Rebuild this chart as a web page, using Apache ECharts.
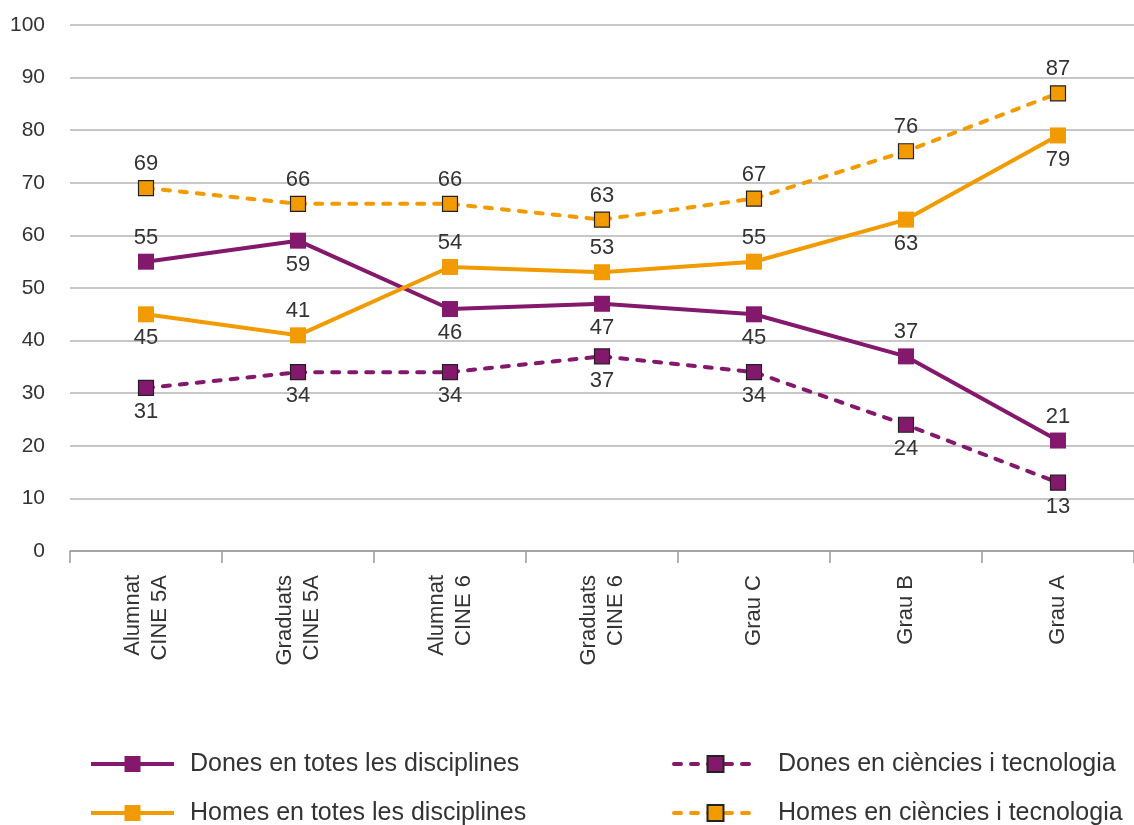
<!DOCTYPE html>
<html>
<head>
<meta charset="utf-8">
<script src="https://cdn.jsdelivr.net/npm/echarts@6/dist/echarts.min.js"></script>
<style>
  html, body { margin: 0; padding: 0; background: #fff; }
  #main { width: 1134px; height: 825px; }
</style>
</head>
<body>
<div id="main"></div>
<script type="text/javascript">
// dades
var categories = ['Alumnat\nCINE 5A', 'Graduats\nCINE 5A', 'Alumnat\nCINE 6', 'Graduats\nCINE 6', 'Grau C', 'Grau B', 'Grau A'];
var yTicks = [0, 10, 20, 30, 40, 50, 60, 70, 80, 90, 100];
var seriesNames = [
    'Dones en totes les disciplines',
    'Homes en totes les disciplines',
    'Dones en ciències i tecnologia',
    'Homes en ciències i tecnologia'
];

var donesTotes = [55, 59, 46, 47, 45, 37, 21];
var homesTotes = [45, 41, 54, 53, 55, 63, 79];
var donesCiencia = [31, 34, 34, 37, 34, 24, 13];
var homesCiencia = [69, 66, 66, 63, 67, 76, 87];

// on va l'etiqueta de cada punt
var donesTotesPos = ['top', 'bottom', 'bottom', 'bottom', 'bottom', 'top', 'top'];
var homesTotesPos = ['bottom', 'top', 'top', 'top', 'top', 'bottom', 'bottom'];
var donesCienciaPos = ['bottom', 'bottom', 'bottom', 'bottom', 'bottom', 'bottom', 'bottom'];
var homesCienciaPos = ['top', 'top', 'top', 'top', 'top', 'top', 'top'];

var PURPLE = '#84186C';
var ORANGE = '#F29B00';
var FONT = "'Liberation Sans', Arial, sans-serif";

function withPos(values, pos) {
    return values.map(function (v, i) {
        return { value: v, label: { position: pos[i] } };
    });
}

function makeSeries(name, values, pos, color, dashed) {
    return {
        name: name,
        type: 'line',
        data: withPos(values, pos),
        symbol: 'rect',
        symbolSize: dashed ? 15 : 16,
        lineStyle: {
            color: color,
            width: 4,
            type: dashed ? [7, 10] : 'solid',
            cap: dashed ? 'round' : 'butt'
        },
        itemStyle: {
            color: color,
            borderColor: dashed ? '#222' : color,
            borderWidth: dashed ? 1.2 : 0
        },
        label: {
            show: true,
            distance: 5,
            color: '#333',
            fontSize: 22,
            fontFamily: FONT
        },
        animation: false,
        z: dashed ? 2 : 3
    };
}

// una llegenda per element, per col·locar-les en dues columnes
function makeLegend(name, left, top, gap) {
    return {
        data: [name],
        left: left,
        top: top,
        itemWidth: 83,
        itemHeight: 20,
        lineStyle: { width: 4 },
        textStyle: { fontSize: 25, color: '#333', fontFamily: FONT, padding: [0, 0, 0, gap], lineHeight: 28 }
    };
}

var myChart = echarts.init(document.getElementById('main'));

var option = {
    backgroundColor: '#fff',
    grid: {
        left: 70,
        top: 25,
        width: 1072,
        height: 526,
        containLabel: false
    },
    legend: [
        makeLegend(seriesNames[0], 84, 745, 11),
        makeLegend(seriesNames[1], 84, 794, 11),
        makeLegend(seriesNames[2], 667, 745, 16),
        makeLegend(seriesNames[3], 667, 794, 16)
    ],
    xAxis: {
        type: 'category',
        data: categories,
        boundaryGap: true,
        axisLine: { show: true, lineStyle: { color: '#9a9a9a', width: 1.5 } },
        axisTick: { show: true, length: 12, lineStyle: { color: '#9a9a9a', width: 1.5 } },
        axisLabel: {
            rotate: 90,
            margin: 24,
            fontSize: 22,
            lineHeight: 27,
            color: '#333',
            fontFamily: FONT
        }
    },
    yAxis: {
        type: 'value',
        min: yTicks[0],
        max: yTicks[yTicks.length - 1],
        interval: yTicks[1] - yTicks[0],
        axisLine: { show: false },
        axisTick: { show: false },
        axisLabel: { margin: 25, fontSize: 21, color: '#333', fontFamily: FONT },
        splitLine: { lineStyle: { color: '#b4b4b4', width: 1.5 } }
    },
    series: [
        makeSeries(seriesNames[0], donesTotes, donesTotesPos, PURPLE, false),
        makeSeries(seriesNames[1], homesTotes, homesTotesPos, ORANGE, false),
        makeSeries(seriesNames[2], donesCiencia, donesCienciaPos, PURPLE, true),
        makeSeries(seriesNames[3], homesCiencia, homesCienciaPos, ORANGE, true)
    ]
};

myChart.setOption(option);
</script>
</body>
</html>
